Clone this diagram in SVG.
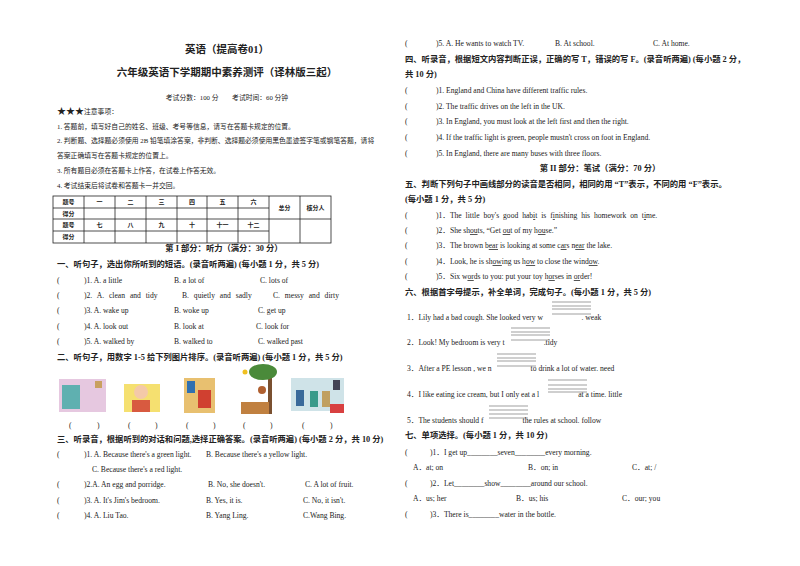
<svg xmlns="http://www.w3.org/2000/svg" width="800" height="566" viewBox="0 0 800 566">
<style>
text{font-family:"Liberation Serif","Noto Sans CJK SC",serif;font-size:7.6px;fill:#222}
.h{font-weight:bold;font-size:8.3px}
.t{font-weight:bold;font-size:10.5px}
.s{font-size:6.8px}
.tb{font-size:6px;font-weight:bold;text-anchor:middle}
.c{text-anchor:middle}
.u{text-decoration:underline}
.ln{stroke:#222;stroke-width:0.8;fill:none}
.bl{stroke:#777;stroke-width:0.7}
</style>
<rect width="800" height="566" fill="#fff"/>
<g id="header">
<text x="227" y="53" class="t c">英语（提高卷01）</text>
<text x="227" y="76" class="t c">六年级英语下学期期中素养测评（译林版三起）</text>
<text x="227" y="100" class="s c">考试分数：100 分　　考试时间：60 分钟</text>
<text x="57" y="114"><tspan font-size="9">★★★</tspan><tspan class="s">注意事项：</tspan></text>
<text x="57" y="129" class="s">1. 答题前，填写好自己的姓名、班级、考号等信息，请写在答题卡规定的位置。</text>
<text x="57" y="143" class="s">2. 判断题、选择题必须使用 2B 铅笔填涂答案，非判断、选择题必须使用黑色墨迹签字笔或钢笔答题，请将</text>
<text x="57" y="158" class="s">答案正确填写在答题卡规定的位置上。</text>
<text x="57" y="173" class="s">3. 所有题目必须在答题卡上作答，在试卷上作答无效。</text>
<text x="57" y="188" class="s">4. 考试结束后将试卷和答题卡一并交回。</text>
</g>
<g id="score-table">
<rect x="53" y="196" width="278" height="47" class="ln" stroke-width="1.2"/>
<path class="ln" d="M53 208H269M53 219H331M53 231H269M84 196V243M115 196V243M146 196V243M177 196V243M207 196V243M238 196V243M269 196V243M300 196V243"/>
<text x="68.5" y="204" class="tb">题号</text><text x="68.5" y="216" class="tb">得分</text>
<text x="68.5" y="227" class="tb">题号</text><text x="68.5" y="239" class="tb">得分</text>
<text x="99.5" y="204" class="tb">一</text><text x="130.5" y="204" class="tb">二</text><text x="161.5" y="204" class="tb">三</text><text x="192" y="204" class="tb">四</text><text x="222.5" y="204" class="tb">五</text><text x="253.5" y="204" class="tb">六</text>
<text x="99.5" y="227" class="tb">七</text><text x="130.5" y="227" class="tb">八</text><text x="161.5" y="227" class="tb">九</text><text x="192" y="227" class="tb">十</text><text x="222.5" y="227" class="tb">十一</text><text x="253.5" y="227" class="tb">十二</text>
<text x="284.5" y="210" class="tb">总分</text><text x="315.5" y="210" class="tb">核分人</text>
</g>
<g id="part1">
<text x="224" y="251" class="h c">第 I 部分：听力（满分：30 分）</text>
<text x="57" y="267" class="h">一、听句子，选出你所听到的短语。(录音听两遍) (每小题 1 分，共 5 分)</text>
<text x="57" y="283">(</text><text x="84" y="283">)1. A. a little</text><text x="174" y="283">B. a lot of</text><text x="260" y="283">C. lots of</text>
<text x="57" y="298">(</text><text x="84" y="298" word-spacing="3">)2. A. clean and tidy</text><text x="182" y="298" word-spacing="3">B. quietly and sadly</text><text x="273" y="298" word-spacing="3">C. messy and dirty</text>
<text x="57" y="313">(</text><text x="84" y="313">)3. A. wake up</text><text x="174" y="313">B. woke up</text><text x="258" y="313">C. get up</text>
<text x="57" y="329">(</text><text x="84" y="329">)4. A. look out</text><text x="174" y="329">B. look at</text><text x="256" y="329">C. look for</text>
<text x="57" y="344">(</text><text x="84" y="344">)5. A. walked by</text><text x="174" y="344">B. walked to</text><text x="258" y="344">C. walked past</text>
<text x="57" y="360" class="h">二、听句子，用数字 1-5 给下列图片排序。(录音听两遍) (每小题 1 分，共 5 分)</text>
</g>
<g id="pictures">
<rect x="59" y="379" width="47" height="33" fill="#e6c8e0"/><rect x="62" y="385" width="18" height="24" fill="#5fb0b0"/><rect x="95" y="381" width="7" height="7" fill="#c9a060"/>
<rect x="124" y="384" width="36" height="28" fill="#f5e070"/><circle cx="141" cy="392" r="7" fill="#f4c9a8"/><rect x="132" y="400" width="18" height="12" fill="#d85a40"/>
<rect x="184" y="378" width="31" height="35" fill="#e8c070"/><rect x="187" y="381" width="8" height="12" fill="#3070b0"/><rect x="198" y="390" width="13" height="18" fill="#d04030"/>
<circle cx="245" cy="372" r="2.5" fill="#f0c020"/><rect x="268" y="370" width="4" height="44" fill="#7a5030"/><ellipse cx="263" cy="372" rx="14" ry="8" fill="#4a8a3a"/><rect x="241" y="402" width="28" height="12" fill="#c08040"/><circle cx="262" cy="390" r="4" fill="#b06030"/>
<rect x="291" y="378" width="53" height="33" fill="#cfe3e8"/><rect x="296" y="390" width="8" height="16" fill="#3a6a9a"/><rect x="310" y="391" width="8" height="16" fill="#3a9a8a"/><rect x="322" y="391" width="8" height="16" fill="#c0a060"/><rect x="333" y="380" width="7" height="10" fill="#445"/><rect x="330" y="404" width="14" height="9" fill="#d84040"/>
<text x="69" y="428">(</text><text x="97" y="428">)</text>
<text x="128" y="428">(</text><text x="155" y="428">)</text>
<text x="186" y="428">(</text><text x="213" y="428">)</text>
<text x="243" y="428">(</text><text x="270" y="428">)</text>
<text x="302" y="428">(</text><text x="330" y="428">)</text>
</g>
<g id="section3">
<text x="57" y="442" class="h">三、听录音，根据听到的对话和问题,选择正确答案。(录音听两遍) (每小题 2 分，共 10 分)</text>
<text x="57" y="457">(</text><text x="84" y="457">)1. A. Because there's a green light.</text><text x="206" y="457">B. Because there's a yellow light.</text>
<text x="92" y="472">C. Because there's a red light.</text>
<text x="57" y="487">(</text><text x="84" y="487">)2.A. An egg and porridge.</text><text x="208" y="487">B. No, she doesn't.</text><text x="305" y="487">C. A lot of fruit.</text>
<text x="57" y="503">(</text><text x="84" y="503">)3. A. It's Jim's bedroom.</text><text x="206" y="503">B. Yes, it is.</text><text x="303" y="503">C. No, it isn't.</text>
<text x="57" y="518">(</text><text x="84" y="518">)4. A. Liu Tao.</text><text x="206" y="518">B. Yang Ling.</text><text x="303" y="518">C.Wang Bing.</text>
</g>
<g id="section4">
<text x="405" y="46">(</text><text x="436" y="46">)5. A. He wants to watch TV.</text><text x="555" y="46">B. At school.</text><text x="653" y="46">C. At home.</text>
<text x="405" y="62" class="h">四、听录音，根据短文内容判断正误，正确的写 T，错误的写 F。(录音听两遍) (每小题 2 分，</text>
<text x="405" y="77" class="h">共 10 分)</text>
<text x="405" y="93">(</text><text x="436" y="93">)1. England and China have different traffic rules.</text>
<text x="405" y="109">(</text><text x="436" y="109">)2. The traffic drives on the left in the UK.</text>
<text x="405" y="124">(</text><text x="436" y="124">)3. In England, you must look at the left first and then the right.</text>
<text x="405" y="140">(</text><text x="436" y="140">)4. If the traffic light is green, people mustn't cross on foot in England.</text>
<text x="405" y="156">(</text><text x="436" y="156">)5. In England, there are many buses with three floors.</text>
</g>
<g id="section5">
<text x="600" y="171" class="h c">第 II 部分：笔试（满分：70 分）</text>
<text x="405" y="187" class="h">五、判断下列句子中画线部分的读音是否相同，相同的用 “T”表示，不同的用 “F”表示。</text>
<text x="405" y="202" class="h">(每小题 1 分，共 5 分)</text>
<text x="405" y="218">(</text><text x="436" y="218" word-spacing="2">)1．The little boy's good hab<tspan class="u">i</tspan>t is f<tspan class="u">i</tspan>nishing his homework on t<tspan class="u">i</tspan>me.</text>
<text x="405" y="233">(</text><text x="436" y="233">)2．She sh<tspan class="u">ou</tspan>ts, “Get <tspan class="u">ou</tspan>t of my h<tspan class="u">ou</tspan>se.”</text>
<text x="405" y="248">(</text><text x="436" y="248">)3．The brown b<tspan class="u">ear</tspan> is looking at some c<tspan class="u">ar</tspan>s n<tspan class="u">ear</tspan> the lake.</text>
<text x="405" y="264">(</text><text x="436" y="264">)4．Look, he is sh<tspan class="u">ow</tspan>ing us h<tspan class="u">ow</tspan> to close the wind<tspan class="u">ow</tspan>.</text>
<text x="405" y="279">(</text><text x="436" y="279">)5．Six w<tspan class="u">or</tspan>ds to you: put your toy h<tspan class="u">or</tspan>ses in <tspan class="u">or</tspan>der!</text>
</g>
<g id="section6">
<text x="405" y="295" class="h">六、根据首字母提示，补全单词，完成句子。(每小题 1 分，共 5 分)</text>
<path class="bl" d="M552 302H591M552 306H591M552 309H591M552 314H591"/>
<text x="407" y="320">1．Lily had a bad cough. She looked very w<tspan dx="39">. weak</tspan></text>
<path class="bl" d="M511 328H550M511 332H550M511 335H550M511 340H550"/>
<text x="407" y="345">2．Look! My bedroom is very t<tspan dx="39">.tidy</tspan></text>
<path class="bl" d="M497 354H536M497 358H536M497 361H536M497 366H536"/>
<text x="407" y="371">3．After a PE lesson , we n<tspan dx="39">to drink a lot of water. need</tspan></text>
<path class="bl" d="M548 380H587M548 385H587M548 389H587M548 392H587"/>
<text x="407" y="397">4．I like eating ice cream, but I only eat a l<tspan dx="39">at a time. little</tspan></text>
<path class="bl" d="M489 406H528M489 410H528M489 414H528M489 418H528"/>
<text x="407" y="423">5．The students should f<tspan dx="39">the rules at school. follow</tspan></text>
</g>
<g id="section7">
<text x="405" y="438" class="h">七、单项选择。(每小题 1 分，共 10 分)</text>
<text x="405" y="455">(</text><text x="430" y="455">)1．I get up________seven________every morning.</text>
<text x="413" y="470">A．at; on</text><text x="528" y="470">B．on; in</text><text x="632" y="470">C．at; /</text>
<text x="405" y="486">(</text><text x="430" y="486">)2．Let________show________around our school.</text>
<text x="413" y="501">A．us; her</text><text x="516" y="501">B．us; his</text><text x="622" y="501">C．our; you</text>
<text x="405" y="517">(</text><text x="430" y="517">)3．There is________water in the bottle.</text>
</g>
</svg>
